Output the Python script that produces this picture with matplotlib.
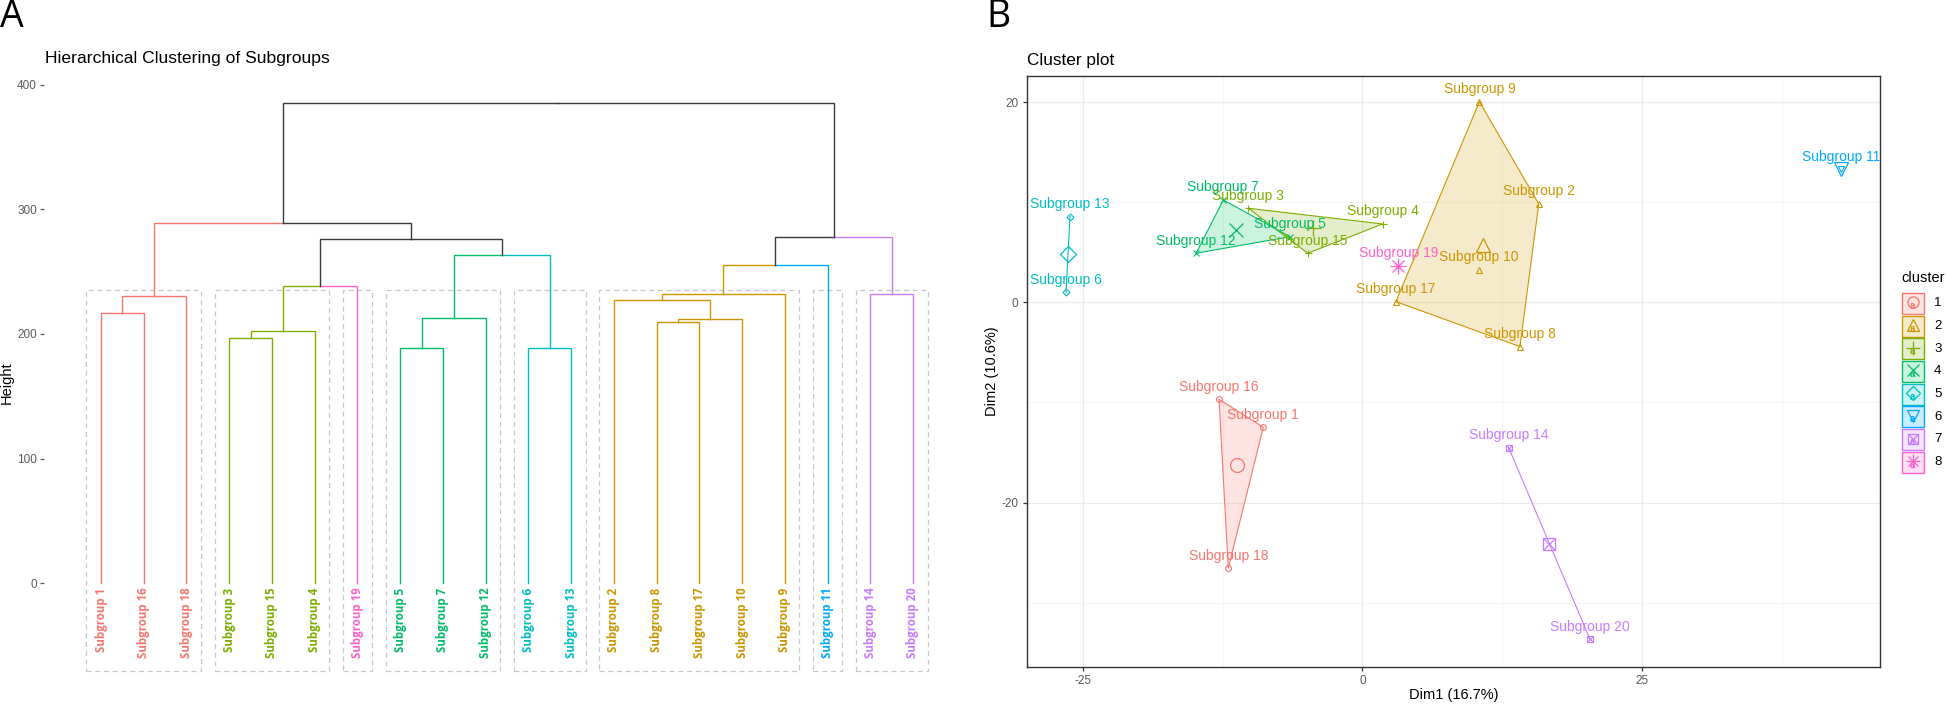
import numpy as np
import matplotlib
matplotlib.use("Agg")
import matplotlib.pyplot as plt
from matplotlib.patches import Rectangle, Polygon

# ------------------------------------------------------------------
# Data
# ------------------------------------------------------------------
cluster_colors = ["#F8766D", "#CD9600", "#7CAE00", "#00BE67",
                  "#00BFC4", "#00A9FF", "#C77CFF", "#FF61CC"]
cluster_ids = [1, 2, 3, 4, 5, 6, 7, 8]

# Dendrogram (panel A): leaf order and cluster of each leaf
leaf_labels = ["Subgroup 1", "Subgroup 16", "Subgroup 18", "Subgroup 3",
               "Subgroup 15", "Subgroup 4", "Subgroup 19", "Subgroup 5",
               "Subgroup 7", "Subgroup 12", "Subgroup 6", "Subgroup 13",
               "Subgroup 2", "Subgroup 8", "Subgroup 17", "Subgroup 10",
               "Subgroup 9", "Subgroup 11", "Subgroup 14", "Subgroup 20"]
leaf_clusters = [1, 1, 1, 3, 3, 3, 8, 4, 4, 4, 5, 5, 2, 2, 2, 2, 2, 6, 7, 7]

# merges m1..m19 (children are leaf labels or earlier merges)
merge_left = ["Subgroup 1", "m1", "Subgroup 3", "m3", "m4", "Subgroup 5",
              "m6", "Subgroup 6", "m7", "m5", "m2", "Subgroup 8", "m12",
              "Subgroup 2", "m14", "m15", "Subgroup 14", "m16", "m11"]
merge_right = ["Subgroup 16", "Subgroup 18", "Subgroup 15", "Subgroup 4",
               "Subgroup 19", "Subgroup 7", "Subgroup 12", "Subgroup 13",
               "m8", "m9", "m10", "Subgroup 17", "Subgroup 10", "m13",
               "Subgroup 9", "Subgroup 11", "Subgroup 20", "m17", "m18"]
merge_height = [216.6, 230.8, 196.5, 202.2, 238.8, 189.0, 213.1, 189.0,
                263.5, 276.6, 289.4, 209.4, 211.8, 227.3, 232.4, 255.4,
                232.4, 277.8, 385.8]
height_ticks = [0, 100, 200, 300, 400]

# Cluster plot (panel B)
pc_labels = ["Subgroup 1", "Subgroup 2", "Subgroup 3", "Subgroup 4",
             "Subgroup 5", "Subgroup 6", "Subgroup 7", "Subgroup 8",
             "Subgroup 9", "Subgroup 10", "Subgroup 11", "Subgroup 12",
             "Subgroup 13", "Subgroup 14", "Subgroup 15", "Subgroup 16",
             "Subgroup 17", "Subgroup 18", "Subgroup 19", "Subgroup 20"]
dim1 = [-8.86, 15.78, -10.2, 1.82, -6.47, -26.5, -12.43, 14.1, 10.47, 10.44,
        42.82, -14.87, -26.15, 13.09, -4.88, -12.82, 3.01, -11.99, 3.22, 20.37]
dim2 = [-12.49, 9.82, 9.39, 7.82, 6.55, 1.0, 10.22, -4.43, 20.04, 3.23,
        13.29, 4.9, 8.55, -14.52, 4.9, -9.69, 0.06, -26.57, 3.63, -33.67]
pc_clusters = [1, 2, 3, 3, 4, 5, 4, 2, 2, 2, 6, 4, 5, 7, 3, 1, 2, 1, 8, 7]
dim1_ticks = [-25, 0, 25]
dim2_ticks = [-20, 0, 20]

# ------------------------------------------------------------------
W, H = 1946, 704
fig = plt.figure(figsize=(W / 100, H / 100), dpi=100)
SANS = ["Liberation Sans", "DejaVu Sans"]
plt.rcParams['font.family'] = SANS
plt.rcParams['axes.unicode_minus'] = False
TICK_C = "#5A5A5A"


def px_axes(x0, y0, x1, y1):
    return fig.add_axes([x0 / W, 1 - y1 / H, (x1 - x0) / W, (y1 - y0) / H])


# ------------------------------------------------------------------
# Panel A : dendrogram
# ------------------------------------------------------------------
axA = px_axes(44, 75, 970, 690)
axA.set_xlim(-0.334, 21.334)
axA.set_ylim(-85.9, 408.0)
for s in axA.spines.values():
    s.set_visible(False)
axA.set_xticks([])
axA.set_yticks(height_ticks)
axA.set_yticklabels([str(t) for t in height_ticks])
axA.tick_params(axis='y', length=3, width=0.9, color=TICK_C,
                labelcolor=TICK_C, labelsize=8.5, pad=2)
axA.set_ylabel("Height", fontsize=10.5, color="black")
axA.yaxis.set_label_coords(-0.0324, 0.5)

nodes = {}
for i, (lab, cl) in enumerate(zip(leaf_labels, leaf_clusters)):
    nodes[lab] = (i + 1.0, 0.0, cl)

for k, (l, r, h) in enumerate(zip(merge_left, merge_right, merge_height)):
    lx, lh, lc = nodes[l]
    rx, rh, rc = nodes[r]
    x = (lx + rx) / 2
    for cx, ch, cc in ((lx, lh, lc), (rx, rh, rc)):
        col = cluster_colors[cc - 1] if cc is not None else "#3A3A3A"
        axA.plot([x, cx, cx], [h, h, ch], color=col, lw=1.0,
                 solid_joinstyle='miter', zorder=3)
    nodes["m%d" % (k + 1)] = (x, h, lc if lc == rc else None)

# dashed rectangles around the clusters
groups = []
start = 0
for i in range(1, len(leaf_clusters) + 1):
    if i == len(leaf_clusters) or leaf_clusters[i] != leaf_clusters[start]:
        groups.append((start + 1, i))
        start = i
for a, b in groups:
    axA.add_patch(Rectangle((a - 0.34, -70.7), (b - a) + 0.68, 306.0,
                            fill=False, ec="#C8C8C8", lw=0.9,
                            ls=(0, (4, 3)), zorder=1))

for i, (lab, cl) in enumerate(zip(leaf_labels, leaf_clusters)):
    axA.text(i + 1, -3.5, lab, rotation=90, ha='center', va='top',
             color=cluster_colors[cl - 1], fontsize=8.3, fontweight='bold',
             family=["Open Sans", "DejaVu Sans"])

fig.text(45 / W, 1 - 58 / H, "Hierarchical Clustering of Subgroups",
         fontsize=12.6, ha='left', va='center')

# ------------------------------------------------------------------
# Panel B : cluster plot
# ------------------------------------------------------------------
axB = px_axes(1026.7, 76, 1880.3, 666.7)
axB.set_xlim(-30.02, 46.33)
axB.set_ylim(-36.4, 22.6)
axB.set_xticks(dim1_ticks)
axB.set_yticks(dim2_ticks)
axB.set_xticks([-12.5, 12.5, 37.5], minor=True)
axB.set_yticks([-30, -10, 10], minor=True)
axB.grid(True, which='major', color="#EBEBEB", lw=0.9, zorder=0)
axB.grid(True, which='minor', color="#F2F2F2", lw=0.5, zorder=0)
axB.set_axisbelow(True)
axB.tick_params(which='minor', length=0)
axB.tick_params(which='major', length=3, width=0.9, color="#333333",
                labelcolor=TICK_C, labelsize=8.5, pad=3)
for s in axB.spines.values():
    s.set_color("#333333")
    s.set_linewidth(1.0)
axB.set_xlabel("Dim1 (16.7%)", fontsize=10.5)
axB.set_ylabel("Dim2 (10.6%)", fontsize=10.5)
axB.xaxis.set_label_coords(0.5, -0.036)
axB.yaxis.set_label_coords(-0.0325, 0.5)
fig.text(1026.7 / W, 1 - 60 / H, "Cluster plot", fontsize=12.4,
         ha='left', va='center')

d1 = np.array(dim1)
d2 = np.array(dim2)
pcl = np.array(pc_clusters)


def hull(pts):
    pts = sorted(set(map(tuple, pts)))
    if len(pts) <= 2:
        return pts

    def cross(o, a, b):
        return (a[0] - o[0]) * (b[1] - o[1]) - (a[1] - o[1]) * (b[0] - o[0])
    lower, upper = [], []
    for p in pts:
        while len(lower) >= 2 and cross(lower[-2], lower[-1], p) <= 0:
            lower.pop()
        lower.append(p)
    for p in reversed(pts):
        while len(upper) >= 2 and cross(upper[-2], upper[-1], p) <= 0:
            upper.pop()
        upper.append(p)
    return lower[:-1] + upper[:-1]


def draw_marker(ax, x, y, cid, ms, col, lw, z, transform=None):
    kw = dict(color=col, ls='none', zorder=z, clip_on=False)
    if transform is not None:
        kw['transform'] = transform
    if cid == 1:
        ax.plot(x, y, 'o', ms=ms, mfc='none', mec=col, mew=lw, **kw)
    elif cid == 2:
        ax.plot(x, y, '^', ms=ms, mfc='none', mec=col, mew=lw, **kw)
    elif cid == 3:
        ax.plot(x, y, '+', ms=ms * 1.2, mew=lw, **kw)
    elif cid == 4:
        ax.plot(x, y, 'x', ms=ms, mew=lw, **kw)
    elif cid == 5:
        ax.plot(x, y, 'D', ms=ms * 0.85, mfc='none', mec=col, mew=lw, **kw)
    elif cid == 6:
        ax.plot(x, y, 'v', ms=ms, mfc='none', mec=col, mew=lw, **kw)
    elif cid == 7:
        ax.plot(x, y, 's', ms=ms * 0.9, mfc='none', mec=col, mew=lw, **kw)
        ax.plot(x, y, 'x', ms=ms * 0.9, mew=lw, **kw)
    elif cid == 8:
        ax.plot(x, y, '+', ms=ms * 1.2, mew=lw, **kw)
        ax.plot(x, y, 'x', ms=ms * 0.9, mew=lw, **kw)


for cid, col in zip(cluster_ids, cluster_colors):
    m = pcl == cid
    pts = np.column_stack([d1[m], d2[m]])
    hp = hull(pts)
    if len(hp) >= 3:
        axB.add_patch(Polygon(hp, closed=True, fc=col, alpha=0.2,
                              ec='none', zorder=2))
        axB.add_patch(Polygon(hp, closed=True, fill=False, ec=col,
                              lw=0.8, zorder=3))
    elif len(hp) == 2:
        axB.plot([hp[0][0], hp[1][0]], [hp[0][1], hp[1][1]], color=col,
                 lw=0.8, zorder=3)
    for x, y in pts:
        draw_marker(axB, x, y, cid, 4.2, col, 0.8, 4)
    draw_marker(axB, pts[:, 0].mean(), pts[:, 1].mean(), cid, 10, col, 0.9, 5)

for lab, x, y, cid in zip(pc_labels, d1, d2, pcl):
    t = axB.annotate(lab, (x, y), xytext=(0, 9), textcoords='offset points',
                     ha='center', va='center', fontsize=10,
                     color=cluster_colors[cid - 1], zorder=6)
    t.set_clip_on(True)

# ------------------------------------------------------------------
# Overlay (panel letters + legend), pixel coordinates
# ------------------------------------------------------------------
ov = fig.add_axes([0, 0, 1, 1], zorder=10)
ov.set_xlim(0, W)
ov.set_ylim(H, 0)
ov.axis('off')
ov.patch.set_alpha(0)
ov.text(0, 27, "A", fontsize=27, ha='left', va='baseline',
        family=["Open Sans", "DejaVu Sans"])
ov.text(986, 27, "B", fontsize=27, ha='left', va='baseline',
        family=["Open Sans", "DejaVu Sans"])

ov.text(1901, 278, "cluster", fontsize=10.5, ha='left', va='center')
for k, (cid, col) in enumerate(zip(cluster_ids, cluster_colors)):
    cy = 303.3 + 22.7 * k
    ov.add_patch(Rectangle((1902, cy - 10.5), 21.5, 21, fc=col, alpha=0.2,
                           ec='none'))
    ov.add_patch(Rectangle((1902, cy - 10.5), 21.5, 21, fill=False, ec=col,
                           lw=1.0))
    draw_marker(ov, 1912.7, cy - 1, cid, 8, col, 0.9, 11)
    ov.text(1912.7, cy + 2.5, "a", fontsize=7, color=col, ha='center',
            va='center', fontweight='bold')
    ov.text(1934, cy, str(cid), fontsize=9.5, ha='left', va='center',
            color="black")

fig.savefig("out.png", dpi=100)
